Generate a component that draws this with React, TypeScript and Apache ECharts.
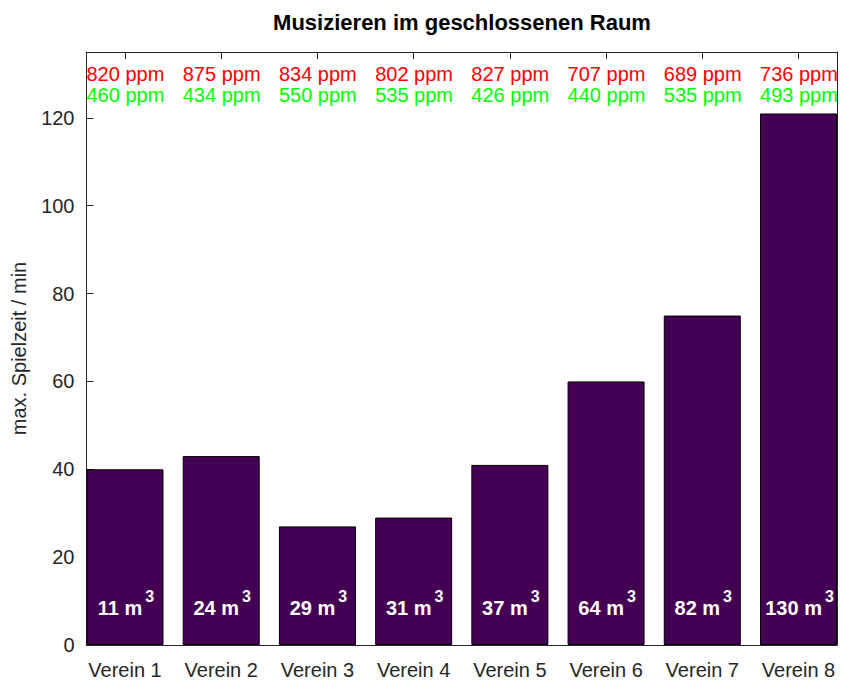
import React, { useEffect, useRef } from "react";
import * as echarts from "echarts";

const categories = ["Verein 1", "Verein 2", "Verein 3", "Verein 4", "Verein 5", "Verein 6", "Verein 7", "Verein 8"];
const playTime = [40, 43, 27, 29, 41, 60, 75, 121];
const roomVolume = [11, 24, 29, 31, 37, 64, 82, 130];
const co2Max = [820, 875, 834, 802, 827, 707, 689, 736];
const co2Min = [460, 434, 550, 535, 426, 440, 535, 493];
const yTicks = [0, 20, 40, 60, 80, 100, 120];

const FONT = "'Liberation Sans', Arial, Helvetica, sans-serif";
const AXIS_COLOR = "#262626";

export default function App() {
  const ref = useRef<HTMLDivElement>(null);

  useEffect(() => {
    document.body.style.margin = "0";
    if (!ref.current) return;
    const chart = echarts.init(ref.current, null, { renderer: "svg" });
    const positions = categories.map((_, i) => i + 1);

    const xCommon = {
      type: "value" as const,
      min: 0.6,
      max: 8.4,
      splitLine: { show: false },
      axisLine: { show: true, onZero: false, lineStyle: { color: AXIS_COLOR, width: 1 } },
    };
    const yCommon = {
      type: "value" as const,
      min: 0,
      max: 135,
      interval: 20,
      splitLine: { show: false },
      axisLine: { show: true, onZero: false, lineStyle: { color: AXIS_COLOR, width: 1 } },
    };

    chart.setOption({
      animation: false,
      backgroundColor: "#ffffff",
      textStyle: { fontFamily: FONT },
      grid: { left: 86.5, right: 6, top: 52, bottom: 39, containLabel: false, outerBoundsMode: "none" },
      graphic: [
        {
          type: "text",
          x: 462,
          y: 22,
          style: {
            text: "Musizieren im geschlossenen Raum",
            fontFamily: FONT,
            fontWeight: "bold",
            fontSize: 22,
            fill: "#000000",
            textAlign: "center",
            textVerticalAlign: "middle",
          },
        },
      ],
      xAxis: [
        {
          ...xCommon,
          position: "bottom",
          axisTick: { show: true, inside: true, length: 7, customValues: positions, lineStyle: { color: AXIS_COLOR } },
          axisLabel: {
            show: true,
            customValues: positions,
            formatter: (v: number) => categories[Math.round(v) - 1] ?? "",
            color: AXIS_COLOR,
            fontSize: 20,
            fontFamily: FONT,
            margin: 15,
          },
        },
        {
          ...xCommon,
          position: "top",
          axisTick: { show: true, inside: true, length: 7, customValues: positions, lineStyle: { color: AXIS_COLOR } },
          axisLabel: { show: false },
        },
      ],
      yAxis: [
        {
          ...yCommon,
          position: "left",
          name: "max. Spielzeit / min",
          nameLocation: "middle",
          nameGap: 58,
          nameRotate: 90,
          nameTextStyle: { color: AXIS_COLOR, fontSize: 20, fontFamily: FONT },
          axisTick: { show: true, inside: true, length: 7, customValues: yTicks, lineStyle: { color: AXIS_COLOR } },
          axisLabel: {
            show: true,
            customValues: yTicks,
            color: AXIS_COLOR,
            fontSize: 20,
            fontFamily: FONT,
            margin: 12,
          },
        },
        {
          ...yCommon,
          position: "right",
          axisTick: { show: true, inside: true, length: 7, customValues: yTicks, lineStyle: { color: AXIS_COLOR } },
          axisLabel: { show: false },
        },
      ],
      series: [
        {
          type: "bar",
          xAxisIndex: 0,
          yAxisIndex: 0,
          barWidth: 77,
          data: playTime.map((v, i) => [positions[i], v]),
          itemStyle: { color: "#440154", borderColor: "#000000", borderWidth: 1 },
          label: {
            show: true,
            position: ["50%", "100%"],
            offset: [1, -37],
            align: "center",
            verticalAlign: "middle",
            formatter: (p: any) => `{b|${roomVolume[p.dataIndex]} m}{s|3}`,
            rich: {
              b: { color: "#ffffff", fontWeight: "bold", fontSize: 20, fontFamily: FONT },
              s: { color: "#ffffff", fontWeight: "bold", fontSize: 16, fontFamily: FONT, padding: [0, 0, 24, 3] },
            },
          },
          z: 2,
        },
        {
          type: "scatter",
          xAxisIndex: 0,
          yAxisIndex: 0,
          symbolSize: 0,
          itemStyle: { opacity: 1 },
          data: co2Max.map((v, i) => [positions[i] - 0.4, 130]),
          label: {
            show: true,
            position: "inside",
            align: "left",
            verticalAlign: "middle",
            formatter: (p: any) => `${co2Max[p.dataIndex]} ppm`,
            color: "#ff0000",
            opacity: 1,
            fontSize: 20,
            fontFamily: FONT,
          },
          z: 3,
        },
        {
          type: "scatter",
          xAxisIndex: 0,
          yAxisIndex: 0,
          symbolSize: 0,
          itemStyle: { opacity: 1 },
          data: co2Min.map((v, i) => [positions[i] - 0.4, 125.2]),
          label: {
            show: true,
            position: "inside",
            align: "left",
            verticalAlign: "middle",
            formatter: (p: any) => `${co2Min[p.dataIndex]} ppm`,
            color: "#00ff00",
            opacity: 1,
            fontSize: 20,
            fontFamily: FONT,
          },
          z: 3,
        },
      ],
    });

    return () => chart.dispose();
  }, []);

  return <div ref={ref} style={{ width: 843, height: 684 }} />;
}
